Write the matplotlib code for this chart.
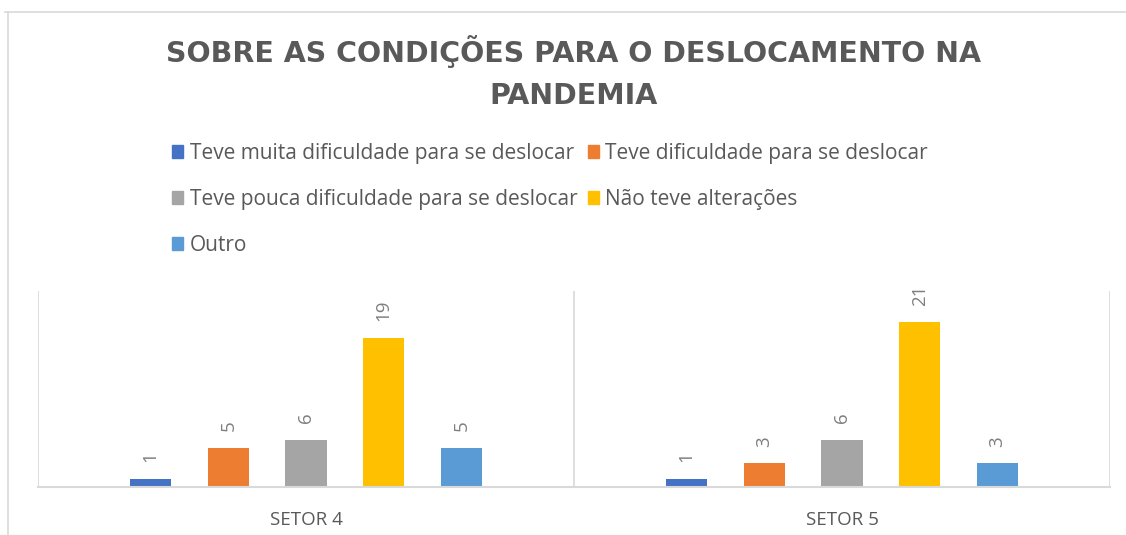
import numpy as np
import matplotlib.pyplot as plt
from matplotlib.patches import Patch

categories = ["SETOR 4", "SETOR 5"]
series = [
    "Teve muita dificuldade para se deslocar",
    "Teve dificuldade para se deslocar",
    "Teve pouca dificuldade para se deslocar",
    "Não teve alterações",
    "Outro",
]
muita = [1, 1]
dificuldade = [5, 3]
pouca = [6, 6]
sem_alteracao = [19, 21]
outro = [5, 3]
values = [muita, dificuldade, pouca, sem_alteracao, outro]
colors = ["#4472C4", "#ED7D31", "#A5A5A5", "#FFC000", "#5B9BD5"]

text_gray = "#595959"
line_gray = "#D9D9D9"

fig = plt.figure(figsize=(11.26, 5.35), dpi=100, facecolor="w")
ax = fig.add_axes([38 / 1126, 48 / 535, 1072 / 1126, 196 / 535])

# outer chart border (top and left edges visible in the reference)
fig.add_artist(plt.Line2D([5 / 1126, 1], [1 - 12 / 535, 1 - 12 / 535],
                          color=line_gray, lw=1.2))
fig.add_artist(plt.Line2D([8 / 1126, 8 / 1126], [0, 1 - 12 / 535],
                          color=line_gray, lw=1.2))

x = np.arange(len(categories))
step = 0.145
width = 0.0765
for j, (vals, col) in enumerate(zip(values, colors)):
    bars = ax.bar(x + (j - 2) * step, vals, width, color=col, label=series[j])
    ax.bar_label(bars, rotation=90, padding=12, color="#7F7F7F",
                 fontsize=13.5, family="Open Sans")

ax.set_xlim(-0.5, 1.5)
ax.set_ylim(0, 25)
ax.set_yticks([])
ax.set_xticks(x)
ax.set_xticklabels(categories, color=text_gray, fontsize=13.5, family="Open Sans")
ax.tick_params(axis="x", length=0, pad=17)

for s in ["top", "right", "left"]:
    ax.spines[s].set_visible(False)
ax.spines["bottom"].set_color(line_gray)
ax.spines["bottom"].set_linewidth(1.5)
for xv in [-0.5, 0.5, 1.5]:
    ax.axvline(xv, color=line_gray, lw=1.2)

fig.text(573 / 1126, 0.8645, "SOBRE AS CONDIÇÕES PARA O DESLOCAMENTO NA\nPANDEMIA",
         ha="center", va="center", fontsize=20.5, fontweight="bold",
         color=text_gray, linespacing=1.6, family="DejaVu Sans")

# legend filled row by row like the original
order = [0, 2, 4, 1, 3]
handles = [Patch(color=colors[i]) for i in order]
labels = [series[i] for i in order]
fig.legend(handles, labels, ncol=2, loc="upper left",
           bbox_to_anchor=(0.136, 0.768), frameon=False,
           prop={"family": "Open Sans", "size": 15},
           handlelength=0.55, handleheight=0.55, handletextpad=0.3,
           columnspacing=0.5, labelspacing=1.2, labelcolor=text_gray)

fig.savefig("out.png", dpi=100)
